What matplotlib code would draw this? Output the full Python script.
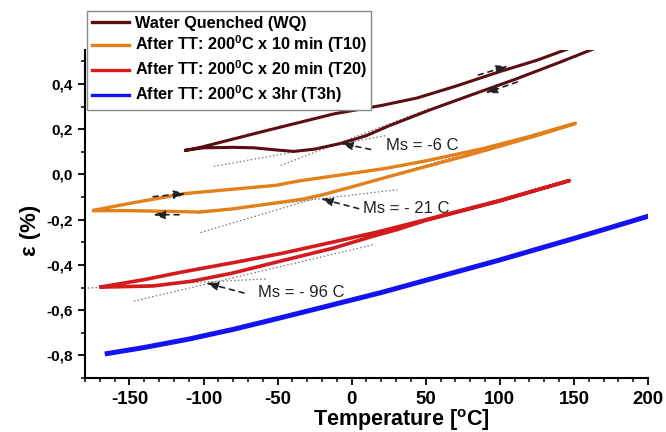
import matplotlib
matplotlib.use('Agg')
import matplotlib.pyplot as plt
from matplotlib.lines import Line2D
from matplotlib.ticker import MultipleLocator, FuncFormatter

plt.rcParams['font.family'] = ['Liberation Sans', 'DejaVu Sans']
plt.rcParams['mathtext.default'] = 'regular'

# WQ: heating branch (upper) then cooling branch (lower)
wq_heat_x = [-112, -102, -60, -12, 20, 44, 70, 100, 125, 150]
wq_heat_y = [0.107, 0.12, 0.19, 0.268, 0.305, 0.338, 0.39, 0.455, 0.505, 0.565]
wq_cool_x = [167, 140, 110, 80, 53, 24, 10, -7, -25, -39, -50, -66, -80, -100, -112]
wq_cool_y = [0.565, 0.495, 0.42, 0.35, 0.286, 0.212, 0.172, 0.138, 0.112, 0.102, 0.108, 0.118, 0.12, 0.118, 0.107]

t10_heat_x = [-174, -150, -112, -80, -51, -45, -34, 0, 23, 50, 89, 120, 151]
t10_heat_y = [-0.158, -0.128, -0.084, -0.065, -0.048, -0.04, -0.027, 0.005, 0.027, 0.06, 0.115, 0.168, 0.227]
t10_cool_x = [151, 125, 100, 78, 50, 23, 0, -20, -34, -56, -80, -103, -134, -150, -174]
t10_cool_y = [0.225, 0.172, 0.125, 0.084, 0.035, -0.013, -0.055, -0.09, -0.11, -0.13, -0.152, -0.166, -0.162, -0.16, -0.16]

t20_heat_x = [-169, -140, -115, -80, -48, -12, 17, 50, 100, 147]
t20_heat_y = [-0.497, -0.465, -0.432, -0.39, -0.35, -0.298, -0.255, -0.2, -0.115, -0.027]
t20_cool_x = [147, 100, 50, 30, 17, -12, -48, -81, -108, -134, -169]
t20_cool_y = [-0.027, -0.117, -0.203, -0.245, -0.268, -0.325, -0.383, -0.437, -0.472, -0.493, -0.498]

t3h_x = [-165, -140, -110, -80, -50, -20, 20, 60, 100, 150, 200]
t3h_y = [-0.792, -0.765, -0.728, -0.685, -0.637, -0.588, -0.522, -0.45, -0.378, -0.283, -0.185]

# dotted tangent lines: (x0, x1), (y0, y1)
tangents = [
    ((-93, 24), (0.036, 0.173)),
    ((-48, 53), (0.04, 0.293)),
    ((-103, 31), (-0.172, -0.067)),
    ((-102, 75), (-0.257, 0.09)),
    ((-178, -58), (-0.502, -0.462)),
    ((-147, 15), (-0.56, -0.31)),
]

# heating / cooling direction arrows: (tail, head)
dir_arrows = [
    ((85.5, 0.44), (105.7, 0.48)),
    ((111.8, 0.409), (90.2, 0.36)),
    ((-134, -0.098), (-112, -0.084)),
    ((-116.5, -0.178), (-134, -0.178)),
]

# Ms annotations: text, text position, arrow tail, arrow head
ms_labels = ['Ms = -6 C', 'Ms = - 21 C', 'Ms = - 96 C']
ms_text_xy = [(22.9, 0.129), (7.4, -0.151), (-63.3, -0.52)]
ms_tail = [(12.8, 0.111), (4.7, -0.151), (-72.7, -0.524)]
ms_head = [(-7.4, 0.138), (-20.9, -0.107), (-98.3, -0.48)]

labels = ['Water Quenched (WQ)',
          'After TT: 200$^0$C x 10 min (T10)',
          'After TT: 200$^0$C x 20 min (T20)',
          'After TT: 200$^0$C x 3hr (T3h)']
colors = ['#5a0d12', '#e3801c', '#d41a1c', '#1212f2']

fig = plt.figure(figsize=(6.66, 4.32), dpi=100)
ax = fig.add_axes([0.1276, 0.125, 0.8453, 0.759])

for x0y0 in tangents:
    ax.plot(x0y0[0], x0y0[1], color='#777777', lw=0.9, ls=(0, (1.2, 1.8)), zorder=1)

ax.plot(wq_heat_x + wq_cool_x, wq_heat_y + wq_cool_y, color=colors[0], lw=2.2, zorder=2)
ax.plot(t10_heat_x + t10_cool_x, t10_heat_y + t10_cool_y, color=colors[1], lw=2.4, zorder=2)
ax.plot(t20_heat_x + t20_cool_x, t20_heat_y + t20_cool_y, color=colors[2], lw=2.6, zorder=2)
ax.plot(t3h_x, t3h_y, color=colors[3], lw=3.6, zorder=2)

ap = dict(arrowstyle='-|>,head_length=0.7,head_width=0.25', color='#222222',
          lw=1.2, ls=(0, (3, 3)), shrinkA=0, shrinkB=0, mutation_scale=10)
for tail, head in dir_arrows:
    ax.annotate('', xy=head, xytext=tail, arrowprops=ap)
for i in range(3):
    ax.annotate('', xy=ms_head[i], xytext=ms_tail[i], arrowprops=ap)
    ax.text(ms_text_xy[i][0], ms_text_xy[i][1], ms_labels[i], fontsize=12,
            ha='left', va='center', color='#222222')

ax.set_xlim(-180, 200)
ax.set_ylim(-0.9, 0.55)
ax.xaxis.set_major_locator(MultipleLocator(50))
ax.xaxis.set_minor_locator(MultipleLocator(10))
ax.yaxis.set_major_locator(MultipleLocator(0.2))
ax.yaxis.set_minor_locator(MultipleLocator(0.1))
ax.xaxis.set_major_formatter(FuncFormatter(lambda v, p: f'{v:.0f}'))
ax.yaxis.set_major_formatter(FuncFormatter(lambda v, p: f'{v:.1f}'.replace('.', ',')))

for s in ['top', 'right']:
    ax.spines[s].set_visible(False)
for s in ['left', 'bottom']:
    ax.spines[s].set_linewidth(1.5)
ax.tick_params(which='major', direction='out', length=5, width=1.3, pad=4)
ax.tick_params(axis='x', which='major', labelsize=13.4)
ax.tick_params(axis='y', which='major', labelsize=11)
ax.tick_params(which='minor', direction='out', length=3, width=1.1)
for lab in ax.get_xticklabels() + ax.get_yticklabels():
    lab.set_fontweight('bold')

ax.set_xlabel('Temperature [$^o$C]', fontsize=15.5, fontweight='bold')
ax.xaxis.set_label_coords(0.563, -0.09)
ax.set_ylabel('\u03b5 (%)', fontsize=16, fontweight='bold')
ax.yaxis.set_label_coords(-0.078, 0.45)

handles = [Line2D([], [], color=c, lw=2.4) for c in colors]
leg = ax.legend(handles, labels, loc='upper left', bbox_to_anchor=(87 / 666, 1 - 11 / 432),
                bbox_transform=fig.transFigure, borderaxespad=0, fancybox=False,
                framealpha=1, edgecolor='#888888', handlelength=2.3, handletextpad=0.35,
                labelspacing=0.2, borderpad=0.28, prop={'weight': 'bold', 'size': 11.7})
leg.get_frame().set_linewidth(1.0)

fig.savefig('out.png', dpi=100)
